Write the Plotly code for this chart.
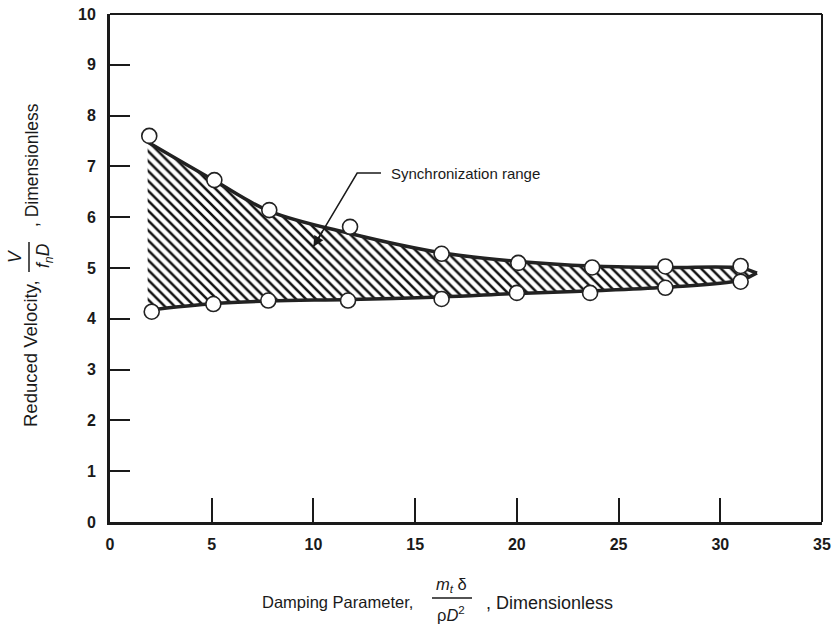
import plotly.graph_objects as go

# ---- data ----
upper_x = [1.93, 5.13, 7.83, 11.8, 16.3, 20.07, 23.7, 27.3, 31.0]
upper_y = [7.60, 6.73, 6.14, 5.81, 5.28, 5.10, 5.01, 5.03, 5.04]
lower_x = [2.05, 5.08, 7.78, 11.7, 16.3, 20.0, 23.6, 27.3, 31.0]
lower_y = [4.14, 4.29, 4.36, 4.36, 4.39, 4.51, 4.51, 4.61, 4.73]

# hand-drawn boundary curves of the synchronization range
curve_x = [1.85, 5.13, 7.83, 11.8, 16.3, 20.07, 23.7, 27.3, 31.0, 31.8]
upper_curve = [7.48, 6.72, 6.12, 5.68, 5.30, 5.13, 5.04, 5.01, 5.00, 4.90]
lower_curve = [4.17, 4.30, 4.35, 4.38, 4.43, 4.50, 4.55, 4.62, 4.76, 4.90]

x_ticks = [0, 5, 10, 15, 20, 25, 30, 35]
y_ticks = list(range(0, 11))

label_text = "Synchronization range"
label_pos = (13.72, 6.87)
leader_knee = (12.15, 6.87)
leader_tip = (10.0, 5.42)

INK = "#1a1a1a"
FONT = "Liberation Sans"

W, H = 832, 641
ML, MR, MT, MB = 110, 10, 14, 119
PW, PH = W - ML - MR, H - MT - MB


def px(x, y):
    return (x - ML) / PW, (H - MB - y) / PH


fig = go.Figure()
fig.add_trace(go.Scatter(x=curve_x, y=lower_curve, mode="lines",
                         line=dict(width=0, shape="spline", color=INK),
                         showlegend=False, hoverinfo="skip"))
fig.add_trace(go.Scatter(x=curve_x, y=upper_curve, mode="lines", fill="tonexty",
                         fillcolor="white",
                         fillpattern=dict(shape="\\", fgcolor="#111111", bgcolor="white",
                                          size=7, solidity=0.36),
                         line=dict(width=0, shape="spline", color=INK),
                         showlegend=False, hoverinfo="skip"))
for cy in (upper_curve, lower_curve):
    fig.add_trace(go.Scatter(x=curve_x, y=cy, mode="lines",
                             line=dict(width=3.5, shape="spline", color="#222222"),
                             showlegend=False, hoverinfo="skip"))
for xs, ys in ((upper_x, upper_y), (lower_x, lower_y)):
    fig.add_trace(go.Scatter(x=xs, y=ys, mode="markers",
                             marker=dict(symbol="circle", size=15, color="white",
                                         line=dict(width=1.6, color="#222222")),
                             showlegend=False))

# leader line of the label (horizontal piece + diagonal piece)
fig.add_trace(go.Scatter(x=[label_pos[0] - 0.4, leader_knee[0], leader_tip[0]],
                         y=[label_pos[1], leader_knee[1], leader_tip[1]],
                         mode="lines", line=dict(color=INK, width=1.5),
                         showlegend=False, hoverinfo="skip"))

axis_common = dict(showgrid=False, zeroline=False, showline=True, linewidth=3,
                   linecolor=INK, ticks="inside", tickwidth=2, tickcolor=INK,
                   automargin=False, ticklabeloverflow="allow",
                   tickfont=dict(family=FONT, size=16, color=INK, weight="bold"))
fig.update_xaxes(range=[0, 35], tickvals=x_ticks, ticklen=24, ticklabelstandoff=6,
                 **axis_common)
fig.update_yaxes(range=[0, 10], tickvals=y_ticks, ticklen=20, ticklabelstandoff=8,
                 **axis_common)

shapes = [
    dict(type="line", xref="paper", yref="paper", x0=0, y0=1, x1=1, y1=1,
         line=dict(color=INK, width=2)),
    dict(type="line", xref="paper", yref="paper", x0=1, y0=0, x1=1, y1=1,
         line=dict(color=INK, width=2)),
]

annotations = [
    dict(x=label_pos[0], y=label_pos[1], xref="x", yref="y", text=label_text,
         showarrow=False, xanchor="left", yanchor="middle",
         font=dict(family=FONT, size=15, color=INK)),
    dict(x=leader_tip[0], y=leader_tip[1], xref="x", yref="y",
         ax=leader_tip[0] + 0.6, ay=leader_tip[1] + 0.405, axref="x", ayref="y",
         text=" ", showarrow=True,
         arrowhead=2, arrowsize=1.4, arrowwidth=1.5, arrowcolor=INK),
]

tf = dict(family=FONT, size=16.5, color=INK)


def pann(xp, yp, text, angle=0, size=None, anchor="center"):
    x, y = px(xp, yp)
    f = dict(tf)
    if size:
        f["size"] = size
    annotations.append(dict(x=x, y=y, xref="paper", yref="paper", text=text,
                            showarrow=False, xanchor=anchor, yanchor="middle",
                            textangle=angle, font=f))


# x-axis title pieces (stacked fraction)
pann(337, 602, "Damping Parameter,")
pann(451, 585, "<i>m<sub>t</sub></i> δ")
pann(451, 614, "ρ<i>D</i><sup>2</sup>")
pann(549, 603, ", Dimensionless", size=18)
x0, y0 = px(432, 598)
x1, _ = px(472, 598)
shapes.append(dict(type="line", xref="paper", yref="paper", x0=x0, y0=y0, x1=x1, y1=y0,
                   line=dict(color=INK, width=1.5)))

# y-axis title pieces
ys = 17.5
pann(31, 354, "Reduced Velocity,", angle=-90, size=18.5)
pann(15, 256, "<i>V</i>", angle=-90, size=ys)
pann(44, 256, "<i>f<sub>n</sub>D</i>", angle=-90, size=ys)
pann(32, 165, ", Dimensionless", angle=-90, size=ys)
xa, ya = px(29, 242)
_, yb = px(29, 272)
shapes.append(dict(type="line", xref="paper", yref="paper", x0=xa, y0=ya, x1=xa, y1=yb,
                   line=dict(color=INK, width=1.5)))

fig.update_layout(template="none", width=W, height=H,
                  margin=dict(l=ML, r=MR, t=MT, b=MB, autoexpand=False),
                  plot_bgcolor="white", paper_bgcolor="white",
                  shapes=shapes, annotations=annotations, showlegend=False)

fig.write_html("out.html",
               config={"displayModeBar": False, "staticPlot": True},
               post_script="document.body.style.margin='0';"
                           "document.documentElement.style.overflow='hidden';")
